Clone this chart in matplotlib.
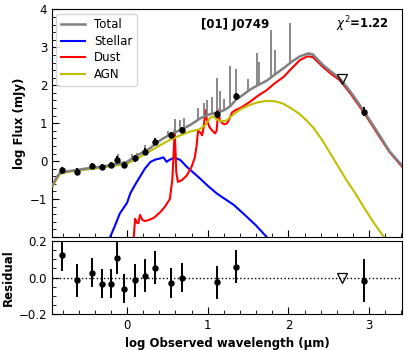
import matplotlib
matplotlib.use("Agg")
import matplotlib.pyplot as plt
from matplotlib.ticker import MultipleLocator

# ---- observed photometry (log wavelength [um], log flux [mJy]) ----
obs_x = [-0.81, -0.62, -0.44, -0.31, -0.20, -0.12, -0.04, 0.10, 0.22, 0.35, 0.54, 0.68, 1.11, 1.35, 2.94]
obs_y = [-0.24, -0.28, -0.13, -0.15, -0.11, 0.04, -0.10, 0.07, 0.25, 0.51, 0.68, 0.83, 1.24, 1.71, 1.30]
obs_err = [0.09, 0.09, 0.08, 0.08, 0.08, 0.09, 0.08, 0.09, 0.09, 0.09, 0.08, 0.08, 0.09, 0.09, 0.12]
resid = [0.124, -0.016, 0.027, -0.035, -0.033, 0.11, -0.062, -0.016, 0.01, 0.055, -0.03, 0.0, -0.027, 0.06, -0.017]
ul_x = [2.66]
ul_y = [2.16]
ul_resid = [0.0]

# ---- model components ----
agn_x = [-0.93, -0.88, -0.83, -0.71, -0.46, -0.33, -0.21, -0.09, 0.0, 0.16, 0.29, 0.41, 0.53, 0.66, 0.78,
         0.90, 0.97, 1.03, 1.07, 1.11, 1.17, 1.23, 1.30, 1.40, 1.52, 1.62, 1.73, 1.83, 1.93, 2.03, 2.14,
         2.22, 2.31, 2.42, 2.52, 2.62, 2.72, 2.83, 2.93, 3.05, 3.20]
agn_y = [-0.70, -0.50, -0.33, -0.28, -0.21, -0.18, -0.14, -0.10, -0.07, 0.11, 0.27, 0.42, 0.56, 0.68, 0.78,
         0.84, 0.95, 1.14, 1.18, 1.10, 1.05, 1.07, 1.20, 1.36, 1.48, 1.55, 1.59, 1.58, 1.52, 1.40, 1.24,
         1.08, 0.88, 0.55, 0.20, -0.15, -0.50, -0.85, -1.20, -1.60, -2.05]

stellar_x = [-0.21, -0.15, -0.09, 0.0, 0.04, 0.10, 0.16, 0.22, 0.29, 0.35, 0.41, 0.45, 0.49, 0.53, 0.59,
             0.66, 0.74, 0.82, 0.90, 1.00, 1.11, 1.20, 1.32, 1.45, 1.60, 1.73]
stellar_y = [-2.0, -1.7, -1.38, -1.1, -0.85, -0.62, -0.41, -0.20, -0.02, 0.04, 0.07, 0.10, -0.02, 0.04, 0.09,
             0.03, -0.15, -0.30, -0.45, -0.65, -0.85, -0.98, -1.15, -1.40, -1.70, -2.0]

dust_x = [0.08, 0.10, 0.12, 0.14, 0.16, 0.19, 0.22, 0.26, 0.33, 0.41, 0.47, 0.53, 0.56, 0.575, 0.59, 0.61,
          0.63, 0.68, 0.74, 0.80, 0.84, 0.86, 0.88, 0.91, 0.93, 0.95, 0.97, 0.99, 1.02, 1.05, 1.09, 1.11,
          1.13, 1.15, 1.18, 1.21, 1.24, 1.27, 1.30, 1.34, 1.42, 1.52, 1.62, 1.73, 1.83, 1.94, 2.02, 2.14,
          2.23, 2.30, 2.43, 2.53, 2.64, 2.78, 2.93, 3.03, 3.13, 3.25, 3.41]
dust_y = [-2.05, -1.52, -1.62, -1.64, -1.42, -1.55, -1.58, -1.56, -1.50, -1.35, -1.20, -1.0, -0.5, 0.1, 0.82, -0.3,
          -0.55, -0.50, -0.38, -0.15, 0.10, 0.38, 0.80, 0.75, 0.68, 0.90, 1.34, 1.08, 0.90, 0.82, 0.73, 0.80,
          1.34, 1.08, 1.00, 0.97, 1.00, 1.12, 1.28, 1.34, 1.42, 1.56, 1.72, 1.87, 2.05, 2.22, 2.40, 2.66,
          2.76, 2.75, 2.48, 2.30, 2.13, 1.75, 1.30, 0.97, 0.64, 0.25, -0.15]

total_x = [-0.93, -0.88, -0.83, -0.71, -0.46, -0.33, -0.21, -0.09, 0.0, 0.10, 0.22, 0.29, 0.41, 0.53, 0.66,
           0.78, 0.86, 0.90, 1.00, 1.07, 1.15, 1.21, 1.28, 1.35, 1.42, 1.52, 1.62, 1.73, 1.83, 1.94, 2.04,
           2.14, 2.23, 2.30, 2.43, 2.53, 2.64, 2.78, 2.93, 3.03, 3.13, 3.25, 3.41]
total_y = [-0.66, -0.45, -0.30, -0.26, -0.18, -0.15, -0.11, -0.06, -0.02, 0.12, 0.26, 0.35, 0.55, 0.70, 0.82,
           0.95, 1.06, 1.12, 1.22, 1.26, 1.30, 1.35, 1.45, 1.62, 1.72, 1.88, 2.00, 2.12, 2.28, 2.45, 2.62,
           2.76, 2.83, 2.82, 2.53, 2.36, 2.18, 1.80, 1.34, 1.01, 0.68, 0.27, -0.12]

# emission-line spikes on the total model
line_x = [-0.11, 0.06, 0.12, 0.22, 0.35, 0.51, 0.59, 0.66, 0.70, 0.88, 0.95, 0.99, 1.05, 1.11, 1.15, 1.20,
          1.28, 1.35, 1.50, 1.61, 1.63, 1.79, 1.83, 2.02, 2.25]
line_base = [-0.07, 0.08, 0.14, 0.26, 0.45, 0.68, 0.75, 0.82, 0.86, 1.08, 1.17, 1.21, 1.25, 1.27, 1.30, 1.34,
             1.45, 1.62, 1.86, 1.99, 2.01, 2.20, 2.27, 2.58, 2.83]
line_top = [0.20, 0.20, 0.22, 0.42, 0.62, 0.80, 1.10, 1.08, 1.13, 1.39, 1.52, 1.60, 1.70, 2.20, 1.85, 1.65,
            2.52, 2.42, 2.16, 2.85, 2.62, 3.45, 2.92, 3.65, 2.88]

flux_ticks = [-2, -1, 0, 1, 2, 3, 4]
flux_ticklabels = ['', '\u22121', '0', '1', '2', '3', '4']

plt.rcParams['font.family'] = ['DejaVu Sans']
FS = 8.5
fig = plt.figure(figsize=(4.07, 3.5), dpi=100)
ax = fig.add_axes([0.128, 0.323, 0.860, 0.650])
axr = fig.add_axes([0.128, 0.103, 0.860, 0.208], sharex=ax)

gray = '#808080'
ax.plot(total_x, total_y, color=gray, lw=1.8, label='Total', zorder=3)
ax.vlines(line_x, line_base, line_top, color=gray, lw=1.3, zorder=3)
ax.plot(stellar_x, stellar_y, color='blue', lw=1.5, label='Stellar', zorder=2)
ax.plot(dust_x, dust_y, color='red', lw=1.5, label='Dust', zorder=2)
ax.plot(agn_x, agn_y, color='#bfbf00', lw=1.5, label='AGN', zorder=2)

ax.errorbar(obs_x, obs_y, yerr=obs_err, fmt='o', color='black', ms=3.6, elinewidth=1.4, capsize=0, zorder=5)
ax.plot(ul_x, ul_y, linestyle='none', marker='v', mfc='none', mec='black', ms=6.5, mew=0.9, zorder=5)

ax.set_xlim(-0.93, 3.41)
ax.set_ylim(-2, 4)
ax.set_yticks(flux_ticks)
ax.set_yticklabels(flux_ticklabels)
ax.set_ylabel('log Flux (mJy)', fontsize=FS, fontweight='bold', labelpad=3)
ax.legend(loc='upper left', fontsize=FS, handlelength=2.0, borderaxespad=0.35, labelspacing=0.3)
ax.text(0.424, 0.935, '[01] J0749', transform=ax.transAxes, fontsize=FS, fontweight='bold',
        ha='left', va='center')
ax.text(0.963, 0.935, r'$\chi^2$=1.22', transform=ax.transAxes, fontsize=FS, fontweight='bold',
        ha='right', va='center')

axr.errorbar(obs_x, resid, yerr=obs_err, fmt='o', color='black', ms=3.6, elinewidth=1.4, capsize=0, zorder=5)
axr.plot(ul_x, ul_resid, linestyle='none', marker='v', mfc='none', mec='black', ms=6.5, mew=0.9, zorder=5)
axr.axhline(0, color='black', ls=':', lw=1.0)
axr.set_ylim(-0.2, 0.2)
axr.set_yticks([-0.2, 0.0, 0.2])
axr.set_xticks([0, 1, 2, 3])
axr.set_ylabel('Residual', fontsize=FS, fontweight='bold', labelpad=3)
axr.set_xlabel('log Observed wavelength (\u00b5m)', fontsize=FS, fontweight='bold')

ax.xaxis.set_minor_locator(MultipleLocator(0.2))
ax.yaxis.set_minor_locator(MultipleLocator(0.2))
axr.yaxis.set_minor_locator(MultipleLocator(0.05))
for a in (ax, axr):
    a.tick_params(which='both', direction='in', labelsize=FS)
    a.tick_params(which='major', length=5)
    a.tick_params(which='minor', length=3)
plt.setp(ax.get_xticklabels(), visible=False)

fig.savefig('out.png', dpi=100)
